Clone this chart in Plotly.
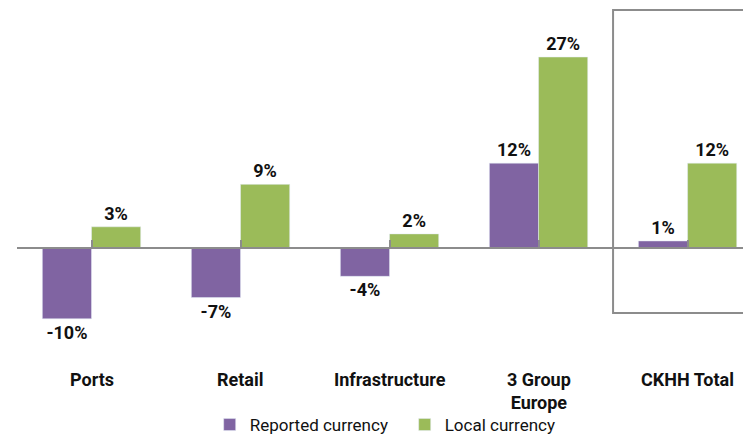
import plotly.graph_objects as go

categories = ["Ports", "Retail", "Infrastructure", "3 Group<br>Europe", "CKHH Total"]
reported = [-10, -7, -4, 12, 1]
local = [3, 9, 2, 27, 12]

PURPLE = "#8064A2"
GREEN = "#9BBB59"
GRAY = "#8C8C8C"
FONT = "Roboto"

x_idx = list(range(len(categories)))

fig = go.Figure()
fig.add_trace(go.Bar(
    x=x_idx, y=reported, name="Reported currency", marker_color=PURPLE,
    text=[f"{v}%" for v in reported], textposition="outside", cliponaxis=False,
    textfont=dict(family=FONT, size=18, color="#111111", weight="bold"),
))
fig.add_trace(go.Bar(
    x=x_idx, y=local, name="Local currency", marker_color=GREEN,
    text=[f"{v}%" for v in local], textposition="outside", cliponaxis=False,
    textfont=dict(family=FONT, size=18, color="#111111", weight="bold"),
))

ymin, ymax = -13.0, 35.06
fig.update_layout(
    width=743, height=436,
    margin=dict(l=17, r=0, t=0, b=96),
    plot_bgcolor="white", paper_bgcolor="white",
    barmode="group", bargap=0.34, bargroupgap=0.0,
    font=dict(family=FONT, size=16, color="#111111"),
    showlegend=True,
    legend=dict(orientation="h", x=0.534, xanchor="center",
                yref="container", y=(436 - 425) / 436, yanchor="middle",
                font=dict(family=FONT, size=17, color="#111111"),
                itemwidth=30, entrywidth=150, entrywidthmode="pixels",
                traceorder="normal"),
)
fig.update_xaxes(
    range=[-0.5, 4.372], tickmode="array", tickvals=x_idx,
    showticklabels=False, tickson="boundaries", ticks="inside", ticklen=7,
    tickcolor=GRAY, tickwidth=2, showline=True, linecolor=GRAY, linewidth=2,
    showgrid=False, zeroline=False, anchor="free", position=(-ymin) / (ymax - ymin),
)
fig.update_yaxes(range=[ymin, ymax], visible=False, showgrid=False, zeroline=False)

for i, c in enumerate(categories):
    fig.add_annotation(x=i, y=-0.08, xref="x", yref="paper", text=f"<b>{c}</b>",
                       showarrow=False, yanchor="top", xanchor="center",
                       font=dict(family=FONT, size=18, color="#111111"))

fig.add_shape(type="rect", xref="x", yref="y", x0=3.5, x1=5.0, y0=-9.2, y1=33.65,
              line=dict(color=GRAY, width=2), fillcolor="rgba(0,0,0,0)", layer="below")

fig.write_html("out.html", config={"displayModeBar": False},
               post_script="document.body.style.margin='0px';document.body.style.overflow='hidden';")
